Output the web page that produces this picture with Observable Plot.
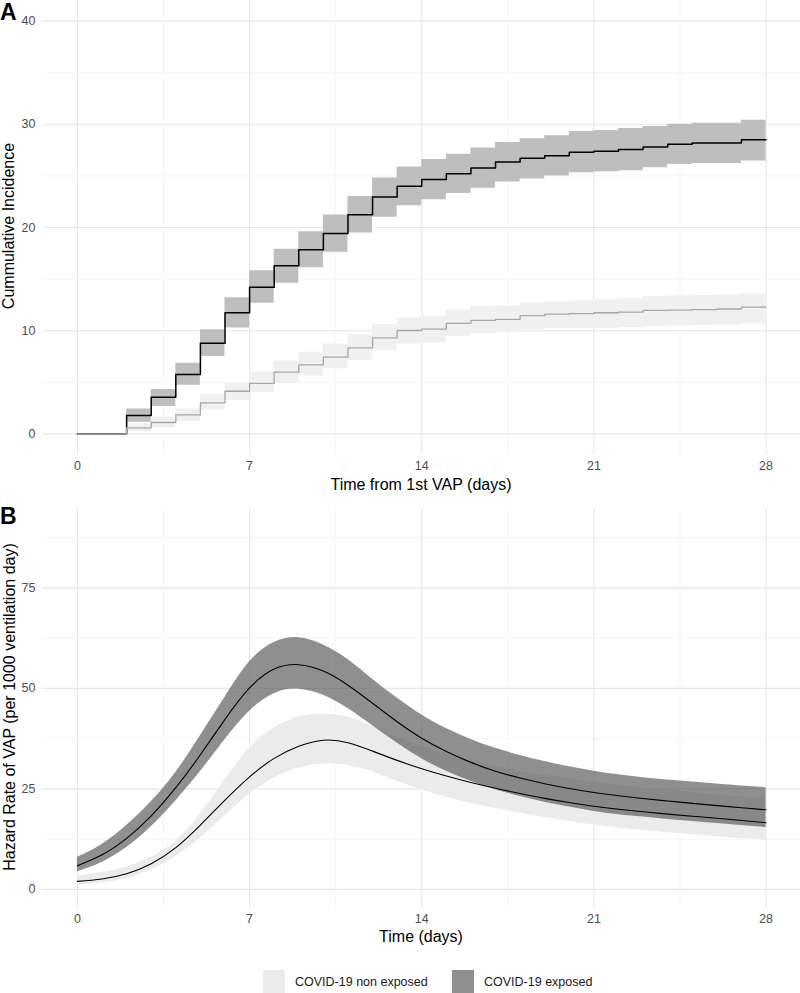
<!DOCTYPE html>
<html><head><meta charset="utf-8">
<script src="https://cdn.jsdelivr.net/npm/d3@7"></script>
<script src="https://cdn.jsdelivr.net/npm/@observablehq/plot@0.6"></script>
<style>
body{margin:0;background:#fff;font-family:"Liberation Sans",Arial,sans-serif;}
#wrap{position:relative;width:800px;height:993px;overflow:hidden;background:#fff;}
.abs{position:absolute;white-space:nowrap;line-height:1;}
.panel{position:absolute;left:0;}
.tag{font-weight:bold;font-size:23px;color:#000;}
.atitle{font-size:16px;color:#000;}
.ytitle{transform:translate(-50%,-50%) rotate(-90deg);transform-origin:center;}
.xtitle{transform:translate(-50%,-50%);}
.legend{font-size:12.5px;color:#1a1a1a;}
.sw{position:absolute;width:22px;height:23px;}
</style></head><body><div id="wrap">
<div id="pA" class="panel" style="top:0"></div>
<div id="pB" class="panel" style="top:500px"></div>
<div class="abs tag" style="left:0;top:1px">A</div>
<div class="abs tag" style="left:0;top:505px">B</div>
<div class="abs atitle ytitle" style="left:9px;top:226px">Cummulative Incidence</div>
<div class="abs atitle xtitle" style="left:421px;top:485px">Time from 1st VAP (days)</div>
<div class="abs atitle ytitle" style="left:10px;top:707px">Hazard Rate of VAP (per 1000 ventilation day)</div>
<div class="abs atitle xtitle" style="left:421px;top:937px">Time (days)</div>
<div class="sw" style="left:263px;top:970px;background:#ebebeb"></div>
<div class="abs legend" style="left:295px;top:976px">COVID-19 non exposed</div>
<div class="sw" style="left:452px;top:970px;background:#8f8f8f"></div>
<div class="abs legend" style="left:484px;top:976px">COVID-19 exposed</div>
</div>
<script>
// ---- Panel A: cumulative incidence (step functions) ----
const ciDays = [0,1,2,3,4,5,6,7,8,9,10,11,12,13,14,15,16,17,18,19,20,21,22,23,24,25,26,27,28];
const exposedCI   = [0,0,1.78,3.55,5.75,8.79,11.74,14.22,16.3,17.85,19.42,21.24,22.95,24.0,24.66,25.2,25.77,26.35,26.7,26.96,27.3,27.4,27.55,27.8,28.06,28.2,28.2,28.5,28.5];
const exposedCILo = [0,0,1.13,2.65,4.7,7.5,10.25,12.67,14.6,16.1,17.6,19.46,21.0,22.1,22.7,23.3,23.8,24.4,24.7,25.0,25.3,25.4,25.5,25.8,26.1,26.2,26.2,26.45,26.45];
const exposedCIHi = [0,0,2.42,4.3,6.85,10.1,13.2,15.8,17.9,19.6,21.2,23.0,24.8,25.86,26.6,27.1,27.7,28.25,28.6,28.9,29.3,29.4,29.6,29.8,30.0,30.1,30.1,30.4,30.4];
const nonExpCI    = [0,0,0.58,1.1,1.84,3.0,4.13,4.9,5.98,6.69,7.43,8.34,9.3,10.02,10.15,10.7,11.0,11.1,11.45,11.6,11.65,11.74,11.8,11.96,12.0,12.05,12.1,12.28,12.28];
const nonExpCILo  = [0,0,0.2,0.6,1.2,2.3,3.25,4.0,4.9,5.6,6.3,7.1,8.1,8.7,8.8,9.45,9.7,9.8,10.1,10.2,10.2,10.2,10.3,10.4,10.45,10.5,10.55,10.65,10.65];
const nonExpCIHi  = [0,0,1.0,1.6,2.4,3.8,4.9,6.0,7.05,7.9,8.7,9.6,10.6,11.25,11.4,12.0,12.35,12.4,12.7,12.8,12.9,13.0,13.1,13.3,13.35,13.4,13.45,13.55,13.55];

// ---- Panel B: hazard rate (smooth curves) ----
const hzDays = [0,1,2,3,4,5,6,7,8,9,10,11,12,13,14,15,16,17,18,19,20,21,22,23,24,25,26,27,28];
const exposedHz   = [5.9,8.6,12.7,18.3,25.3,33.5,42.3,50.1,54.8,55.9,54.3,50.8,46.3,41.7,37.6,34.3,31.6,29.4,27.7,26.3,25.1,24.1,23.3,22.6,22.0,21.4,20.85,20.3,19.8];
const exposedHzLo = [4.4,6.7,10.4,15.6,22.0,29.3,37.2,44.3,48.7,49.8,48.3,45.0,40.7,36.4,32.5,29.4,26.9,24.8,23.1,21.7,20.5,19.4,18.6,18.0,17.4,16.9,16.4,15.9,15.4];
const exposedHzHi = [8.0,11.2,15.9,21.8,29.1,38.2,47.8,56.6,61.4,62.6,60.8,57.2,52.3,47.6,43.4,40.0,37.3,35.1,33.3,31.8,30.5,29.4,28.5,27.8,27.2,26.7,26.2,25.75,25.3];
const nonExpHz    = [2.0,2.6,3.9,6.4,10.4,16.0,22.2,28.0,32.6,35.6,37.1,36.5,34.4,32.1,30.0,28.2,26.6,25.15,23.85,22.65,21.6,20.7,19.95,19.3,18.72,18.2,17.7,17.15,16.6];
const nonExpHzLo  = [1.0,1.6,2.7,4.9,8.2,12.8,18.3,23.7,27.7,30.2,31.2,30.8,29.2,26.9,24.7,22.9,21.4,20.1,19.0,17.9,16.9,16.0,15.3,14.7,14.1,13.6,13.1,12.65,12.2];
const nonExpHzHi  = [3.3,4.2,5.6,8.0,12.0,18.8,27.2,35.2,40.2,42.9,43.6,42.8,40.6,37.9,35.6,33.7,32.0,30.6,29.4,28.4,27.5,26.7,26.0,25.3,24.7,24.1,23.5,23.0,22.5];

const xTicks = [0,7,14,21,28];
const xMinor = [3.5,10.5,17.5,24.5];
const ciTicks = [0,10,20,30,40];
const ciMinor = [5,15,25,35];
const hzTicks = [0,25,50,75];
const hzMinor = [12.5,37.5,62.5,87.5];

const rows = (days, est, lo, hi) => days.map((d, i) => ({day: d, est: est[i], lo: lo[i], hi: hi[i]}));
const ciExp = rows(ciDays, exposedCI, exposedCILo, exposedCIHi);
const ciNon = rows(ciDays, nonExpCI, nonExpCILo, nonExpCIHi);
const hzExp = rows(hzDays, exposedHz, exposedHzLo, exposedHzHi);
const hzNon = rows(hzDays, nonExpHz, nonExpHzLo, nonExpHzHi);

const font = '"Liberation Sans", Arial, sans-serif';
const grid = (yt, ym) => [
  Plot.ruleY(ym, {stroke: "#f2f2f2", strokeWidth: 0.8}),
  Plot.ruleX(xMinor, {stroke: "#f2f2f2", strokeWidth: 0.8}),
  Plot.ruleY(yt, {stroke: "#e6e6e6", strokeWidth: 1.1}),
  Plot.ruleX(xTicks, {stroke: "#e6e6e6", strokeWidth: 1.1})
];
const axes = (yt) => [
  Plot.axisX(xTicks, {tickSize: 0, tickPadding: 7, fill: "#4d4d4d", fontSize: 12.5, label: null}),
  Plot.axisY(yt, {tickSize: 0, tickPadding: 7.5, fill: "#4d4d4d", fontSize: 12.5, label: null})
];

const plotA = Plot.plot({
  width: 800, height: 495,
  marginLeft: 42.5, marginRight: 0, marginTop: 0, marginBottom: 41,
  style: {fontFamily: font, background: "transparent"},
  x: {domain: [-1.4, 29.4]},
  y: {domain: [-2, 42]},
  marks: [
    ...grid(ciTicks, ciMinor),
    Plot.areaY(ciNon, {x: "day", y1: "lo", y2: "hi", fill: "#f0f0f0", curve: "step-after"}),
    Plot.areaY(ciExp, {x: "day", y1: "lo", y2: "hi", fill: "#bebebe", curve: "step-after"}),
    Plot.line(ciExp, {x: "day", y: "est", stroke: "#000", strokeWidth: 1.5, curve: "step-after"}),
    Plot.line(ciNon, {x: "day", y: "est", stroke: "#a6a6a6", strokeWidth: 1.3, curve: "step-after"}),
    ...axes(ciTicks)
  ]
});
document.getElementById("pA").appendChild(plotA);

const plotB = Plot.plot({
  width: 800, height: 429,
  marginLeft: 42.5, marginRight: 0, marginTop: 9, marginBottom: 22,
  style: {fontFamily: font, background: "transparent"},
  x: {domain: [-1.4, 29.4]},
  y: {domain: [-4.5, 94.5]},
  marks: [
    ...grid(hzTicks, hzMinor),
    Plot.areaY(hzNon, {x: "day", y1: "lo", y2: "hi", fill: "#ebebeb", curve: "natural"}),
    Plot.areaY(hzExp, {x: "day", y1: "lo", y2: "hi", fill: "#535353", fillOpacity: 0.65, curve: "natural"}),
    Plot.line(hzExp, {x: "day", y: "est", stroke: "#000", strokeWidth: 1.1, curve: "natural"}),
    Plot.line(hzNon, {x: "day", y: "est", stroke: "#000", strokeWidth: 1.1, curve: "natural"}),
    ...axes(hzTicks)
  ]
});
document.getElementById("pB").appendChild(plotB);
</script>
</body></html>
